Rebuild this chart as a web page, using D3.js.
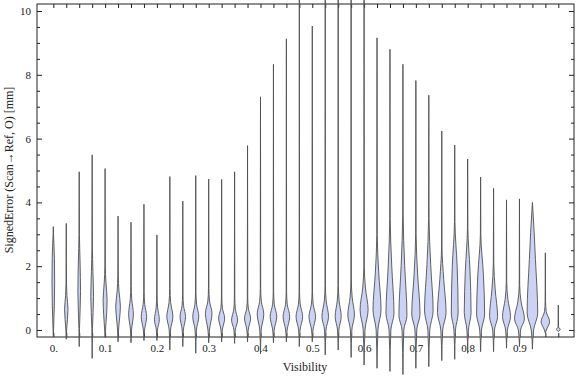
<!DOCTYPE html>
<html>
<head>
<meta charset="utf-8">
<script src="https://cdn.jsdelivr.net/npm/d3@7"></script>
<style>
  body { margin: 0; background: #fff; }
  text { font-family: "Liberation Serif", "DejaVu Serif", serif; }
</style>
</head>
<body>
<script>
// visibility bins (one violin per bin)
const visibility = [0, 0.025, 0.05, 0.075, 0.1, 0.125, 0.15, 0.175, 0.2, 0.225,
    0.25, 0.275, 0.3, 0.325, 0.35, 0.375, 0.4, 0.425, 0.45, 0.475,
    0.5, 0.525, 0.55, 0.575, 0.6, 0.625, 0.65, 0.675, 0.7, 0.725,
    0.75, 0.775, 0.8, 0.825, 0.85, 0.875, 0.9, 0.925, 0.95, 0.975];

// signed error per bin [mm]
const minVals = [-0.19, -0.29, -0.52, -0.89, -0.23, -0.37, -0.40, -0.33, -0.33, -0.63,
    -0.52, -0.73, -0.40, -0.37, -0.42, -0.37, -0.75, -0.40, -0.37, -0.52,
    -0.37, -0.78, -0.63, -0.86, -1.10, -1.20, -1.30, -1.40, -1.20, -1.15,
    -0.96, -0.92, -0.73, -0.68, -0.68, -0.57, -0.52, -0.60, -0.10, -0.05];
const maxVals = [3.24, 3.34, 4.96, 5.49, 5.06, 3.57, 3.38, 3.94, 2.98, 4.81,
    4.04, 4.84, 4.73, 4.72, 4.96, 5.78, 7.31, 8.33, 9.13, 10.5,
    9.53, 10.45, 10.45, 10.6, 10.5, 9.16, 8.80, 8.33, 7.82, 7.36,
    6.24, 5.80, 5.36, 4.79, 4.44, 4.08, 4.11, 4.00, 2.42, 0.78];
// lower end of the body, most frequent value, top of the body
const lowVals = [0.05, 0, 0.05, 0.05, 0, 0, 0, 0, 0, 0,
    0, 0, 0, 0, 0, 0, 0, 0, 0, 0,
    0, 0, 0, 0, 0, 0, 0, 0, 0, 0,
    0, 0, 0, 0, 0, 0, 0, 0, 0, -0.04];
const modeVals = [1.5, 0.65, 1.2, 1.05, 0.95, 0.75, 0.5, 0.42, 0.32, 0.42,
    0.42, 0.42, 0.52, 0.37, 0.31, 0.37, 0.5, 0.42, 0.42, 0.42,
    0.42, 0.42, 0.42, 0.47, 0.63, 0.63, 0.52, 0.45, 0.5, 0.6,
    0.55, 0.53, 0.55, 0.5, 0.42, 0.42, 0.35, 0.53, 0.26, 0.03];
const topVals = [3.0, 1.5, 3.0, 2.6, 2.0, 1.7, 1.4, 1.2, 1.1, 1.3,
    1.1, 1.2, 1.3, 1.0, 1.0, 1.0, 1.3, 1.2, 1.2, 1.2,
    1.2, 1.4, 1.4, 1.6, 2.0, 3.0, 3.5, 3.6, 3.0, 3.5,
    2.6, 3.4, 3.2, 3.0, 2.1, 1.5, 1.4, 3.9, 0.9, 0.12];
// relative density at the mode and halfway up the body
const peakDens = [0.24, 0.31, 0.24, 0.25, 0.36, 0.42, 0.43, 0.49, 0.44, 0.55,
    0.5, 0.55, 0.6, 0.55, 0.55, 0.55, 0.6, 0.6, 0.6, 0.6,
    0.6, 0.6, 0.55, 0.6, 0.73, 0.73, 0.73, 0.73, 0.75, 0.78,
    0.78, 0.62, 0.62, 0.73, 0.73, 0.73, 0.9, 0.96, 0.78, 0.36];
const midDens = [0.2, 0.12, 0.16, 0.14, 0.16, 0.16, 0.14, 0.14, 0.13, 0.15,
    0.14, 0.15, 0.15, 0.14, 0.14, 0.14, 0.15, 0.15, 0.15, 0.16,
    0.16, 0.17, 0.17, 0.18, 0.25, 0.3, 0.32, 0.32, 0.32, 0.34,
    0.36, 0.45, 0.42, 0.5, 0.3, 0.25, 0.3, 0.55, 0.15, 0.06];

const xLabelVals = [0, 0.1, 0.2, 0.3, 0.4, 0.5, 0.6, 0.7, 0.8, 0.9];
const xLabels = ['0.', '0.1', '0.2', '0.3', '0.4', '0.5', '0.6', '0.7', '0.8', '0.9'];
const yMajor = [0, 2, 4, 6, 8, 10];
const yMinor = [0.5, 1, 1.5, 2.5, 3, 3.5, 4.5, 5, 5.5, 6.5, 7, 7.5, 8.5, 9, 9.5];

const width = 576, height = 377;
const frameLeft = 37, frameRight = 574, frameTop = 4, frameBottom = 337;

const svg = d3.select('body').append('svg')
    .attr('width', width)
    .attr('height', height);

const x = d3.scaleLinear().domain([-0.0315, 1.0053]).range([frameLeft, frameRight]);
const y = d3.scaleLinear().domain([-0.22, 10.22]).range([frameBottom, frameTop]);
const w = d3.scaleLinear().domain([0, 1]).range([0, 5.5]);

// frame
svg.append('rect')
    .attr('x', frameLeft).attr('y', frameTop)
    .attr('width', frameRight - frameLeft).attr('height', frameBottom - frameTop)
    .attr('fill', 'none').attr('stroke', '#222').attr('stroke-width', 1);

function ticks(axis, tx, ty) {
    const g = svg.append('g').attr('transform', `translate(${tx},${ty})`).call(axis);
    g.select('.domain').remove();
    g.selectAll('line').attr('stroke', '#222');
    return g;
}

// inward ticks on every side
ticks(d3.axisTop(x).tickValues(visibility).tickSize(4).tickFormat(''), 0, frameBottom);
ticks(d3.axisBottom(x).tickValues(visibility).tickSize(4).tickFormat(''), 0, frameTop);
ticks(d3.axisRight(y).tickValues(yMajor).tickSize(5).tickFormat(''), frameLeft, 0);
ticks(d3.axisRight(y).tickValues(yMinor).tickSize(3).tickFormat(''), frameLeft, 0);
ticks(d3.axisLeft(y).tickValues(yMajor).tickSize(5).tickFormat(''), frameRight, 0);
ticks(d3.axisLeft(y).tickValues(yMinor).tickSize(3).tickFormat(''), frameRight, 0);

// tick labels
ticks(d3.axisBottom(x).tickValues(xLabelVals).tickSize(0).tickPadding(7)
    .tickFormat((d, i) => xLabels[i]), 0, frameBottom);
ticks(d3.axisLeft(y).tickValues(yMajor).tickSize(0).tickPadding(6), frameLeft, 0);
svg.selectAll('.tick text')
    .attr('font-family', '"Liberation Serif", serif')
    .attr('font-size', 11)
    .attr('fill', '#222');

// violins
const violin = d3.area()
    .y(d => y(d.v))
    .x0(d => d.cx - w(d.d))
    .x1(d => d.cx + w(d.d))
    .curve(d3.curveMonotoneY);

const shapes = visibility.map((vis, i) => {
    const cx = x(vis);
    const mid = (modeVals[i] + topVals[i]) / 2;
    return [
        { v: minVals[i], d: 0, cx },
        { v: lowVals[i], d: peakDens[i] * 0.22, cx },
        { v: modeVals[i], d: peakDens[i], cx },
        { v: mid, d: midDens[i], cx },
        { v: topVals[i], d: 0.04, cx },
        { v: maxVals[i], d: 0, cx }
    ];
});

svg.append('g').selectAll('path')
    .data(shapes)
    .join('path')
    .attr('d', violin)
    .attr('fill', '#cbd2f4')
    .attr('stroke', '#505050')
    .attr('stroke-width', 0.9)
    .attr('stroke-linejoin', 'round');

// axis titles
svg.append('text')
    .attr('x', 305).attr('y', 371)
    .attr('text-anchor', 'middle')
    .attr('font-size', 12)
    .attr('fill', '#222')
    .text('Visibility');

svg.append('text')
    .attr('transform', 'translate(13,170) rotate(-90)')
    .attr('text-anchor', 'middle')
    .attr('font-size', 12)
    .attr('fill', '#222')
    .text('SignedError (Scan\u2192Ref, O) [mm]');
</script>
</body>
</html>
